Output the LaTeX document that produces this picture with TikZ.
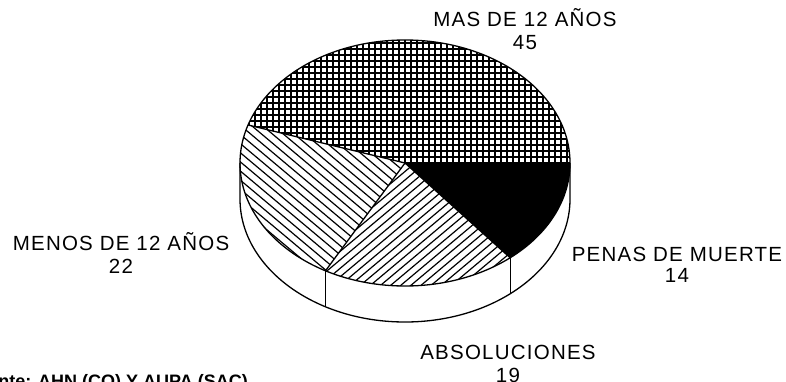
\documentclass[tikz,border=0pt]{standalone}
\usepackage{fontspec}
\newfontfamily\plotfont[LetterSpace=6]{Liberation Sans}
\newfontfamily\srcfont{Liberation Sans}

\tikzset{
    lbl/.style={font=\plotfont\fontsize{20.5}{24}\selectfont, inner sep=0pt, anchor=base},
    hatch/.style={line width=1.2pt},
    rim/.style={line width=1.3pt}
}

\begin{document}
\begin{tikzpicture}[x=1pt,y=1pt]
    \useasboundingbox (0,0) rectangle (786,381);
    \clip (0,0) rectangle (786,381);

    % Pie geometry
    \coordinate (C) at (405,218);
    \def\pieRx{165}
    \def\pieRy{123}
    \def\pieDepth{36}
    \def\sliceMas{(C) -- ++(0:{\pieRx} and {\pieRy}) arc[start angle=0, end angle=162, x radius=\pieRx, y radius=\pieRy] -- cycle}
    \def\sliceMenos{(C) -- ++(162:{\pieRx} and {\pieRy}) arc[start angle=162, end angle=241.2, x radius=\pieRx, y radius=\pieRy] -- cycle}
    \def\sliceAbs{(C) -- ++(241.2:{\pieRx} and {\pieRy}) arc[start angle=241.2, end angle=309.6, x radius=\pieRx, y radius=\pieRy] -- cycle}
    \def\slicePenas{(C) -- ++(309.6:{\pieRx} and {\pieRy}) arc[start angle=309.6, end angle=360, x radius=\pieRx, y radius=\pieRy] -- cycle}

    % Fill the slices
    \begin{scope}
        \clip \sliceMas;
        \foreach \i in {0,...,56} {
            \draw[hatch] (237+6*\i,90) -- ++(0,260);
        }
        \foreach \i in {0,...,42} {
            \draw[hatch] (235,92+6*\i) -- ++(340,0);
        }
    \end{scope}
    \begin{scope}
        \clip \sliceMenos;
        \foreach \k in {-32,...,32} {
            \draw[hatch] (C) ++(50:{7*\k}) ++(140:250) -- ++(320:500);
        }
    \end{scope}
    \begin{scope}
        \clip \sliceAbs;
        \foreach \k in {-34,...,34} {
            \draw[hatch] (C) ++(130:{6.5*\k}) ++(220:250) -- ++(40:500);
        }
    \end{scope}
    \fill[black] \slicePenas;

    % Draw the top and the rim
    \draw[rim] (C) ellipse [x radius=\pieRx, y radius=\pieRy];
    \draw[rim] (C) -- ++(0:{\pieRx} and {\pieRy});
    \draw[rim] (C) -- ++(162:{\pieRx} and {\pieRy});
    \draw[rim] (C) -- ++(241.2:{\pieRx} and {\pieRy});
    \draw[rim] (C) -- ++(309.6:{\pieRx} and {\pieRy});
    \draw[rim] (C) ++(180:{\pieRx} and {\pieRy}) -- ++(0,-\pieDepth)
        arc[start angle=180, end angle=360, x radius=\pieRx, y radius=\pieRy] -- ++(0,\pieDepth);
    \draw[rim] (C) ++(241.2:{\pieRx} and {\pieRy}) -- ++(0,-\pieDepth);
    \draw[rim] (C) ++(309.6:{\pieRx} and {\pieRy}) -- ++(0,-\pieDepth);

    % Add labels
    \node[lbl] (mas) at (525,354) {MAS DE 12 AÑOS};
    \node[lbl] (masval) at (525,331) {45};
    \node[lbl] (menos) at (121,131) {MENOS DE 12 AÑOS};
    \node[lbl] (menosval) at (121,108) {22};
    \node[lbl] (penas) at (677,120) {PENAS DE MUERTE};
    \node[lbl] (penasval) at (677,99) {14};
    \node[lbl] (abs) at (508,22) {ABSOLUCIONES};
    \node[lbl] (absval) at (508,-1) {19};
    \node[font=\srcfont\bfseries\fontsize{18}{21}\selectfont, inner sep=0pt, anchor=base east] (fuente) at (248,-6) {Fuente: AHN (CO) Y AUPA (SAC)};
\end{tikzpicture}
\end{document}
